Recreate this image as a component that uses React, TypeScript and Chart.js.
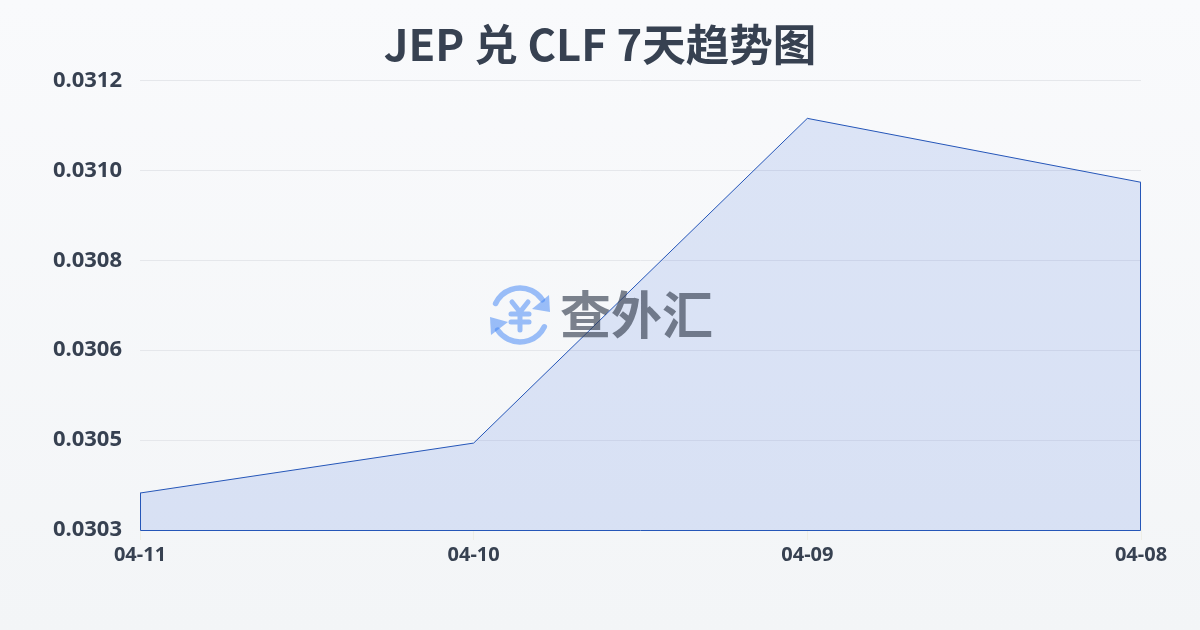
import React, { useEffect, useRef } from "react";
import { Chart, registerables } from "chart.js";

Chart.register(...registerables);

const categories = ["04-11", "04-10", "04-09", "04-08"];
const rates = [0.030354, 0.030454, 0.031104, 0.030976];
const titleText = "JEP 兑 CLF 7天趋势图";
const brandText = "查外汇";
const FONT = '"Noto Sans", "Noto Sans CJK SC", sans-serif';
const TITLE_FONT = '"Noto Sans CJK SC", sans-serif';

const centerTitle = {
  id: "centerTitle",
  afterLayout(chart: any) {
    if (chart.titleBlock) {
      chart.titleBlock.left = 0;
      chart.titleBlock.right = chart.width;
    }
  },
};

const outline = {
  id: "outline",
  afterDatasetsDraw(chart: any) {
    const pts = chart.getDatasetMeta(0).data;
    const base = Math.round(chart.scales.y.bottom) + 0.5;
    const left = pts[0].x + 0.5;
    const right = pts[pts.length - 1].x - 0.5;
    const c = chart.ctx;
    c.save();
    c.strokeStyle = "#2556b8";
    c.lineWidth = 1;
    c.beginPath();
    c.moveTo(left, pts[0].y);
    c.lineTo(left, base);
    c.lineTo(right, base);
    c.lineTo(right, pts[pts.length - 1].y);
    c.stroke();
    c.restore();
  },
};

const watermark = {
  id: "watermark",
  afterDatasetsDraw(chart: any) {
    const c = chart.ctx;
    c.save();
    c.globalAlpha = 0.5;
    c.strokeStyle = "#3b82f6";
    c.fillStyle = "#3b82f6";
    c.lineWidth = 5.5;
    c.lineCap = "round";
    const cx = 520, cy = 315, r = 27;
    c.beginPath(); c.arc(cx, cy, r, -2.7, -0.6); c.stroke();
    c.beginPath(); c.arc(cx, cy, r, 0.45, 2.55); c.stroke();
    c.beginPath(); c.moveTo(549, 295); c.lineTo(550, 312); c.lineTo(532, 309); c.closePath(); c.fill();
    c.beginPath(); c.moveTo(491, 335); c.lineTo(490, 317); c.lineTo(508, 322); c.closePath(); c.fill();
    c.lineWidth = 5;
    c.beginPath();
    c.moveTo(512, 302); c.lineTo(520, 312); c.lineTo(528, 302);
    c.moveTo(520, 312); c.lineTo(520, 330);
    c.moveTo(511, 314); c.lineTo(529, 314);
    c.moveTo(511, 322); c.lineTo(529, 322);
    c.stroke();
    c.globalAlpha = 0.65;
    c.fillStyle = "#374151";
    c.font = 'bold 51px "Noto Sans CJK SC", sans-serif';
    c.textAlign = "left";
    c.textBaseline = "middle";
    c.fillText(brandText, 560, 315);
    c.restore();
  },
};

export default function App() {
  const ref = useRef<HTMLCanvasElement>(null);
  useEffect(() => {
    document.body.style.margin = "0";
    const chart = new Chart(ref.current!, {
      type: "line",
      data: {
        labels: categories,
        datasets: [
          {
            data: rates,
            borderColor: "#2556b8",
            borderWidth: 1,
            backgroundColor: "rgba(59,108,222,0.15)",
            fill: "start",
            tension: 0,
            pointRadius: 0,
          },
        ],
      },
      options: {
        animation: false,
        responsive: false,
        layout: { padding: { left: 35, right: 59, top: 0, bottom: 60 } },
        plugins: {
          legend: { display: false },
          tooltip: { enabled: false },
          title: {
            display: true,
            text: titleText,
            color: "#374151",
            font: { family: TITLE_FONT, size: 43.5, weight: "bold", lineHeight: 1.2 },
            padding: { top: 18, bottom: 10.2 },
          },
        },
        scales: {
          x: {
            offset: false,
            grid: { drawOnChartArea: false, drawTicks: true, tickLength: 10, tickColor: "#eeeee6", lineWidth: 1 },
            border: { display: false },
            ticks: {
              color: "#374151",
              font: { family: FONT, size: 20, weight: "bold" },
              maxRotation: 0,
              padding: 3,
            },
          },
          y: {
            min: 0.03028,
            max: 0.03118,
            afterBuildTicks(axis: any) {
              axis.ticks = [0, 1, 2, 3, 4, 5].map((i) => ({ value: 0.03028 + i * 0.00018 }));
            },
            afterFit(axis: any) {
              axis.width = 105;
            },
            grid: { color: "#e5e7eb", lineWidth: 1, drawTicks: false },
            border: { display: false },
            ticks: {
              color: "#374151",
              font: { family: FONT, size: 22, weight: "bold" },
              padding: 18,
              callback: (v: any) => Number(v).toFixed(4),
            },
          },
        },
      },
      plugins: [centerTitle, outline, watermark],
    });
    return () => chart.destroy();
  }, []);
  return (
    <div style={{ width: 1200, height: 630, background: "linear-gradient(180deg,#f9fafc 0%,#f3f5f7 100%)" }}>
      <canvas ref={ref} width={1200} height={630} style={{ display: "block" }} />
    </div>
  );
}
